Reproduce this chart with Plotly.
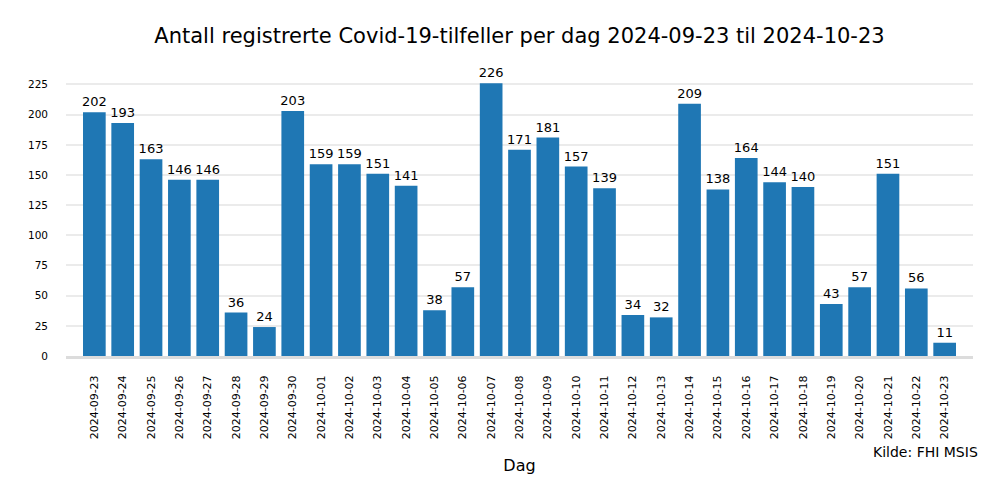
import plotly.graph_objects as go

datoer = ["2024-09-23", "2024-09-24", "2024-09-25", "2024-09-26", "2024-09-27",
          "2024-09-28", "2024-09-29", "2024-09-30", "2024-10-01", "2024-10-02",
          "2024-10-03", "2024-10-04", "2024-10-05", "2024-10-06", "2024-10-07",
          "2024-10-08", "2024-10-09", "2024-10-10", "2024-10-11", "2024-10-12",
          "2024-10-13", "2024-10-14", "2024-10-15", "2024-10-16", "2024-10-17",
          "2024-10-18", "2024-10-19", "2024-10-20", "2024-10-21", "2024-10-22",
          "2024-10-23"]
tilfeller = [202, 193, 163, 146, 146, 36, 24, 203, 159, 159, 151, 141, 38, 57, 226,
             171, 181, 157, 139, 34, 32, 209, 138, 164, 144, 140, 43, 57, 151, 56, 11]
y_ticks = [0, 25, 50, 75, 100, 125, 150, 175, 200, 225]

font = "DejaVu Sans"

fig = go.Figure(go.Bar(
    x=datoer, y=tilfeller,
    marker=dict(color="#1f77b4", line=dict(width=0)),
    width=0.8,
    text=tilfeller, textposition="outside", cliponaxis=False,
    constraintext="none",
    textfont=dict(family=font, size=13, color="black"),
))

fig.update_layout(
    width=1000, height=500,
    margin=dict(l=58, r=35, t=62, b=152),
    plot_bgcolor="white", paper_bgcolor="white",
    font=dict(family=font, color="black"),
    title=dict(text="Antall registrerte Covid-19-tilfeller per dag 2024-09-23 til 2024-10-23",
               x=0.5, xref="paper", xanchor="center", y=0.944, yref="container",
               yanchor="middle", font=dict(size=21, family=font)),
    showlegend=False,
    xaxis=dict(type="category", range=[-1, 31], tickangle=-90, automargin=False,
               tickfont=dict(size=11), showgrid=False,
               showline=True, linecolor="#dcdcdc", linewidth=3, layer="above traces",
               ticks="", ticklabelstandoff=12,
               title=dict(text="Dag", font=dict(size=16), standoff=22)),
    yaxis=dict(range=[0, 237], tickvals=y_ticks, tickfont=dict(size=10.5),
               automargin=False,
               gridcolor="#ebebeb", gridwidth=2, zeroline=False, showline=False,
               ticks="", ticklabelstandoff=17),
    annotations=[dict(text="Kilde: FHI MSIS", xref="paper", yref="paper",
                      x=1.008, y=-0.336, xanchor="right", yanchor="middle",
                      showarrow=False, font=dict(size=14, family=font))],
)

fig.write_html("out.html")
